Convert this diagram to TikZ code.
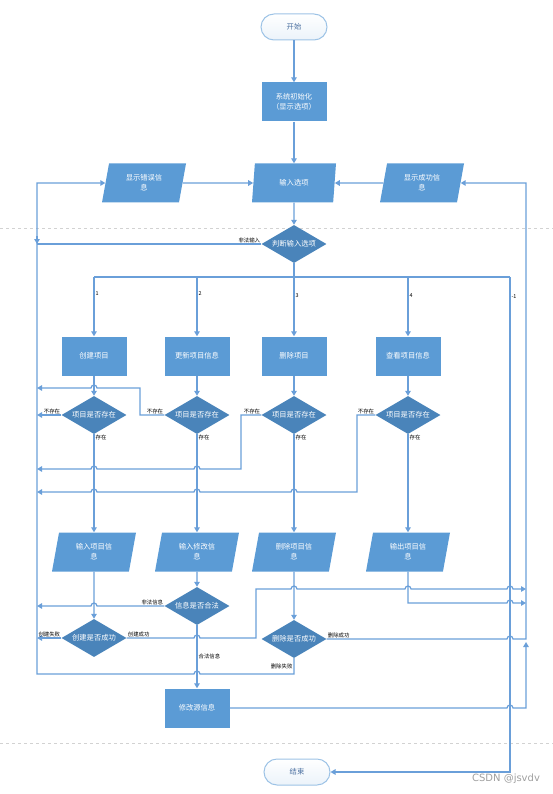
\documentclass[tikz,border=0pt]{standalone}
\usepackage{fontspec}
\setmainfont{Noto Sans CJK SC}
\newfontfamily\markfont{DejaVu Sans}
\usepackage{xcolor}
\usetikzlibrary{shapes.geometric,arrows.meta}

\definecolor{boxblue}{HTML}{5B9BD5}
\definecolor{decblue}{HTML}{4A84BA}
\definecolor{lineblue}{HTML}{6A9FD9}
\definecolor{termline}{HTML}{9DC3E6}
\definecolor{termtext}{HTML}{4A6FA0}

% line jumps over a vertical line at x=#1 (going right / going left)
\newcommand\hopR[2]{-- (#1-3,#2) arc(180:360:3)}
\newcommand\hopL[2]{-- (#1+3,#2) arc(0:-180:3)}

\begin{document}
\begin{tikzpicture}[x=1pt,y=-1pt,
  line/.style={draw=lineblue,line width=1.2pt},
  arr/.style={line,-{Triangle[width=5.5pt,length=5pt]}},
  term/.style={draw=termline,line width=1pt,top color=white,bottom color=termline!20,rounded corners=13pt,
    minimum width=66pt,minimum height=26pt,text=termtext,font=\fontsize{7.3}{9}\selectfont},
  procbox/.style={fill=boxblue,minimum width=65pt,minimum height=39pt,inner sep=0pt,text=white,
    align=center,font=\fontsize{7.3}{10.5}\selectfont},
  iobox/.style={trapezium,trapezium left angle=67,trapezium right angle=113,trapezium stretches body,
    fill=boxblue,minimum width=84pt,minimum height=39pt,inner sep=0pt,text=white,
    align=center,font=\fontsize{7.3}{10}\selectfont},
  decbox/.style={diamond,aspect=1.7,fill=decblue,minimum width=65pt,minimum height=38pt,inner sep=0pt,
    text=white,font=\fontsize{7.3}{9}\selectfont},
  lbl/.style={font=\fontsize{5.4}{6}\selectfont,inner sep=1pt}]

\useasboundingbox (0,0) rectangle (553,794);

% Dashed separators
\draw[gray!35,dashed,line width=0.8pt] (0,228) -- (553,228);
\draw[gray!35,dashed,line width=0.8pt] (0,743) -- (553,743);

% Top part
\node[term] (start) at (294,27) {开始};
\node[procbox] (init) at (294,102) {系统初始化\\（显示选项）};
\node[iobox] (err) at (144,183) {显示错误信\\息};
\node[iobox] (inp) at (294,183) {输入选项};
\node[iobox] (succ) at (422,183) {显示成功信\\息};
\node[decbox] (judge) at (294,244) {判断输入选项};

% Options
\node[procbox] (create) at (94,356) {创建项目};
\node[procbox] (update) at (197,356) {更新项目信息};
\node[procbox] (delete) at (294,356) {删除项目};
\node[procbox] (view) at (408,356) {查看项目信息};

\node[decbox] (exist1) at (94,415) {项目是否存在};
\node[decbox] (exist2) at (197,415) {项目是否存在};
\node[decbox] (exist3) at (294,415) {项目是否存在};
\node[decbox] (exist4) at (408,415) {项目是否存在};

\node[iobox] (inputinfo) at (94,552) {输入项目信\\息};
\node[iobox] (inputmod) at (197,552) {输入修改信\\息};
\node[iobox] (delinfo) at (294,552) {删除项目信\\息};
\node[iobox] (outinfo) at (408,552) {输出项目信\\息};

\node[decbox] (legal) at (197,606) {信息是否合法};
\node[decbox] (created) at (94,638) {创建是否成功};
\node[decbox] (deleted) at (294,639) {删除是否成功};
\node[procbox] (modsrc) at (197,708) {修改源信息};

\node[term] (stop) at (297,772) {结束};

% Trunks and bus
\coordinate (ltop) at (37,183);
\coordinate (lbot) at (37,674);
\coordinate (rtop) at (526,183);
\coordinate (rbot) at (526,708);
\coordinate (bus) at (294,277);
\coordinate (exitcol) at (510,277);

% Main flow
\draw[arr] (start) -- (init);
\draw[arr] (init) -- (inp);
\draw[arr] (inp) -- (judge);
\draw[arr] (err) -- (inp);
\draw[arr] (succ) -- (inp);
\draw[line] (judge.west) -- (judge.west -| ltop);
\node[lbl,above left] at (judge.west) {非法输入};
\draw[arr] ([yshift=8pt]judge.west -| ltop) -- (judge.west -| ltop);

\draw[line] (judge) -- (bus);
\draw[line] (bus -| create) -- (exitcol);
\draw[arr] (bus -| create) -- (create) node[lbl,pos=0.28,right] {1};
\draw[arr] (bus -| update) -- (update) node[lbl,pos=0.28,right] {2};
\draw[arr] (bus) -- (delete) node[lbl,pos=0.32,right] {3};
\draw[arr] (bus -| view) -- (view) node[lbl,pos=0.32,right] {4};
\draw[arr] (exitcol) -- node[lbl,pos=0.04,right] {-1} (exitcol |- stop) -- (stop);

% Existence checks
\draw[arr] (create) -- (exist1);
\draw[arr] (update) -- (exist2);
\draw[arr] (delete) -- (exist3);
\draw[arr] (view) -- (exist4);

\draw[arr] (exist1.west) -- (exist1.west -| ltop);
\draw[arr] (exist2.west) -- (140,415) -- (140,388) \hopL{94}{388} -- (37,388);
\draw[arr] (exist3.west) -- (241,415) -- (241,469) \hopL{197}{469} \hopL{94}{469} -- (37,469);
\draw[arr] (exist4.west) -- (357,415) -- (357,492) \hopL{294}{492} \hopL{197}{492} \hopL{94}{492} -- (37,492);
\node[lbl,above left] at (exist1.west) {不存在};
\node[lbl,above left] at (exist2.west) {不存在};
\node[lbl,above left] at (exist3.west) {不存在};
\node[lbl,above left] at (exist4.west) {不存在};

\draw[arr] (exist1) -- (inputinfo) node[lbl,pos=0.03,right] {存在};
\draw[arr] (exist2) -- (inputmod) node[lbl,pos=0.03,right] {存在};
\draw[arr] (exist3) -- (delinfo) node[lbl,pos=0.03,right] {存在};
\draw[arr] (exist4) -- (outinfo) node[lbl,pos=0.03,right] {存在};

% Create
\draw[arr] (inputinfo) -- (created);
\draw[arr] (created.west) -- (created.west -| ltop);
\node[lbl,above left] at (created.west) {创建失败};
\draw[arr] (created.east) \hopR{197}{638} -- (256,638) -- (256,589) \hopR{294}{589} \hopR{408}{589} \hopR{510}{589} -- (526,589);
\node[lbl,above right] at (created.east) {创建成功};

% Update
\draw[arr] (inputmod) -- (legal);
\draw[arr] (legal.west) \hopL{94}{606} -- (37,606);
\node[lbl,above left] at (legal.west) {非法信息};
\draw[arr] (legal) -- (modsrc) node[lbl,midway,right] {合法信息};
\draw[arr] (modsrc.east) \hopR{510}{708} -- (rbot) -- (526,642);

% Delete
\draw[arr] (delinfo) -- (deleted);
\draw[arr] (deleted.south) -- (294,674) node[lbl,pos=0.55,left] {删除失败} \hopL{197}{674} -- (lbot) -- (ltop) -- (err);
\draw[arr] (deleted.east) \hopR{510}{639} -- (526,639) -- (rtop) -- (succ);
\node[lbl,above right] at (deleted.east) {删除成功};

% View
\draw[arr] (outinfo) -- (408,603) \hopR{510}{603} -- (526,603);

% Watermark
\node[font=\markfont\fontsize{10}{12}\selectfont,text=gray!75] (mark) at (506,779) {CSDN @jsvdv};

\end{tikzpicture}
\end{document}
